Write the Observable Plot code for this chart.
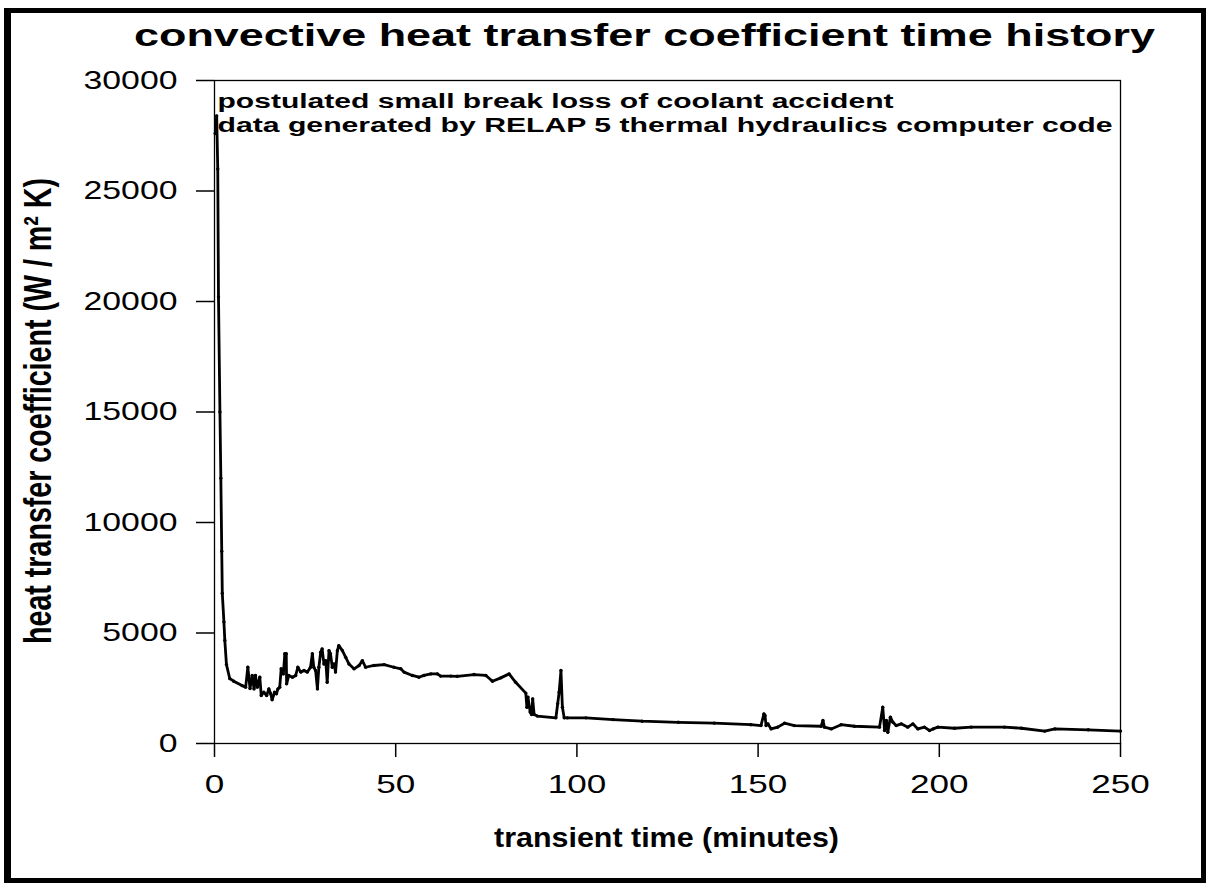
<!DOCTYPE html>
<html><head><meta charset="utf-8">
<script src="https://cdn.jsdelivr.net/npm/d3@7"></script>
<script src="https://cdn.jsdelivr.net/npm/@observablehq/plot@0.6"></script>
<style>
html,body{margin:0;padding:0;background:#fff;width:1207px;height:884px;overflow:hidden;}
#border{position:absolute;left:4px;top:8px;width:1202px;height:875px;box-sizing:border-box;border:5px solid #000;border-left-width:7px;}
#title{position:absolute;left:0;top:0;}
#chart{position:absolute;left:0;top:60px;}
</style></head><body>
<div id="border"></div>
<svg id="title" width="1207" height="60"></svg>
<div id="chart"></div>
<script>
// ---- data ----
const timeMin = [0.2,0.6,0.9,1.1,1.5,1.75,2.0,2.15,2.6,2.85,3.3,4.2,5.3,7.6,8.6,9.2,9.8,10.4,10.9,11.3,11.8,12.5,12.9,13.6,14.4,15.0,15.5,15.9,16.6,17.1,17.5,18.0,18.4,19.0,19.4,19.8,19.9,20.5,21.5,22.4,23.0,23.8,24.7,25.6,26.5,27.0,27.4,27.9,28.4,28.8,29.3,29.7,30.2,30.7,31.1,31.6,32.0,32.5,33.0,33.4,33.9,34.3,35.3,36.2,37.1,38.5,39.9,40.8,41.7,44.0,46.8,49.5,51.4,52.3,54.6,56.4,57.8,59.7,61.5,62.4,65.2,67.0,71.6,74.9,76.7,79.0,81.3,83.1,85.9,86.2,86.5,87.1,87.5,87.8,88.2,89.1,94.2,94.7,95.1,95.6,96.0,96.5,97.4,102.5,110.0,118.0,128.0,137.9,148.0,150.8,151.6,151.9,152.2,152.7,153.6,155.4,157.3,160.0,167.4,167.9,168.3,170.2,172.9,176.6,183.5,184.4,184.9,185.4,185.8,186.5,187.2,188.1,189.5,191.3,192.7,194.1,195.9,197.3,198.3,199.6,204.2,208.8,218.0,222.7,229.1,231.9,241.1,250.0];
const htc = [27600,28400,26000,20200,15000,12000,8700,6800,5500,4660,3570,2940,2820,2620,2550,3450,2490,3080,2470,3080,2550,3000,2170,2320,2170,2470,2250,1980,2320,2250,2470,2550,3380,3150,4060,4060,2700,3080,3000,3080,3450,3230,3300,3230,3450,4060,3450,3300,2470,3450,4130,4280,3600,3750,2770,4200,4060,3450,3600,3230,4200,4430,4200,3900,3600,3380,3530,3750,3450,3530,3570,3450,3380,3230,3080,3000,3080,3150,3150,3050,3050,3040,3120,3080,2820,2970,3150,2770,2280,1640,2100,1420,1310,2020,1310,1240,1160,1800,2320,3300,1640,1160,1160,1160,1080,1010,960,920,850,810,1340,1270,810,890,660,740,920,810,780,1040,740,660,850,780,740,1640,590,1040,510,1190,960,810,890,740,890,660,740,590,660,740,690,740,740,690,560,660,620,560];
const xTicks = [0, 50, 100, 150, 200, 250];
const yTicks = [0, 5000, 10000, 15000, 20000, 25000, 30000];
const titleText = "convective heat transfer coefficient time history";
const note1 = "postulated small break loss of coolant accident";
const note2 = "data generated by RELAP 5 thermal hydraulics computer code";
const xLabel = "transient time (minutes)";
const yLabel = "heat transfer coefficient (W / m\u00B2 K)";

const data = timeMin.map((t, i) => ({t, v: htc[i]}));
const FONT = "'Liberation Sans', Arial, Helvetica, sans-serif";

// title
const ts = d3.select("#title");
ts.append("text").attr("x", 134).attr("y", 46)
  .attr("font-family", FONT).attr("font-weight", "bold").attr("font-size", 31)
  .attr("textLength", 1021).attr("lengthAdjust", "spacingAndGlyphs")
  .text(titleText);

const plot = Plot.plot({
  width: 1207,
  height: 818,
  marginTop: 20,
  marginBottom: 135,
  marginLeft: 214,
  marginRight: 87,
  style: {fontSize: "25px", fontFamily: FONT, background: "transparent", overflow: "visible", color: "#000"},
  x: {domain: [0, 250], ticks: xTicks, tickSize: 14, tickPadding: 18, tickFormat: d => String(d), label: null},
  y: {domain: [0, 30000], ticks: yTicks, tickSize: 18, tickPadding: 19, tickFormat: d => String(d), label: null},
  marks: [
    Plot.frame({stroke: "#000", strokeWidth: 1.3}),
    Plot.line(data, {x: "t", y: "v", stroke: "#000", strokeWidth: 2.8, strokeLinejoin: "round"}),
    Plot.dot(data, {x: "t", y: "v", r: 1.7, fill: "#000", stroke: null}),
    Plot.text([note1], {text: d => d, frameAnchor: "top-left", textAnchor: "start", lineAnchor: "bottom", dx: 3, dy: 27, fontSize: 20, fontWeight: "bold"}),
    Plot.text([note2], {text: d => d, frameAnchor: "top-left", textAnchor: "start", lineAnchor: "bottom", dx: 3, dy: 51, fontSize: 20, fontWeight: "bold"}),
    Plot.text([xLabel], {text: d => d, frameAnchor: "bottom", textAnchor: "middle", lineAnchor: "bottom", dx: -1, dy: 103, fontSize: 27, fontWeight: "bold"}),
    Plot.text([yLabel], {text: d => d, frameAnchor: "left", textAnchor: "middle", lineAnchor: "bottom", rotate: -90, dx: -164, dy: -1, fontSize: 38, fontWeight: "bold"})
  ]
});
document.getElementById("chart").appendChild(plot);

// typographic widths (the reference lettering is horizontally stretched)
const widths = new Map([[note1, 676], [note2, 895], [xLabel, 345], [yLabel, 466]]);
d3.select(plot).selectAll("text").each(function() {
  const el = d3.select(this);
  const s = this.textContent;
  if (widths.has(s)) {
    el.attr("textLength", widths.get(s)).attr("lengthAdjust", "spacingAndGlyphs");
  } else if (/^\d+$/.test(s)) {
    const g = this.closest("g[aria-label]");
    const isY = g && /y-axis/.test(g.getAttribute("aria-label"));
    el.attr("textLength", s.length * (isY ? 18.8 : 19.5)).attr("lengthAdjust", "spacingAndGlyphs");
  }
});
d3.select(plot).selectAll("g[aria-label*='axis']").attr("stroke-width", 1.5);
</script>
</body></html>
